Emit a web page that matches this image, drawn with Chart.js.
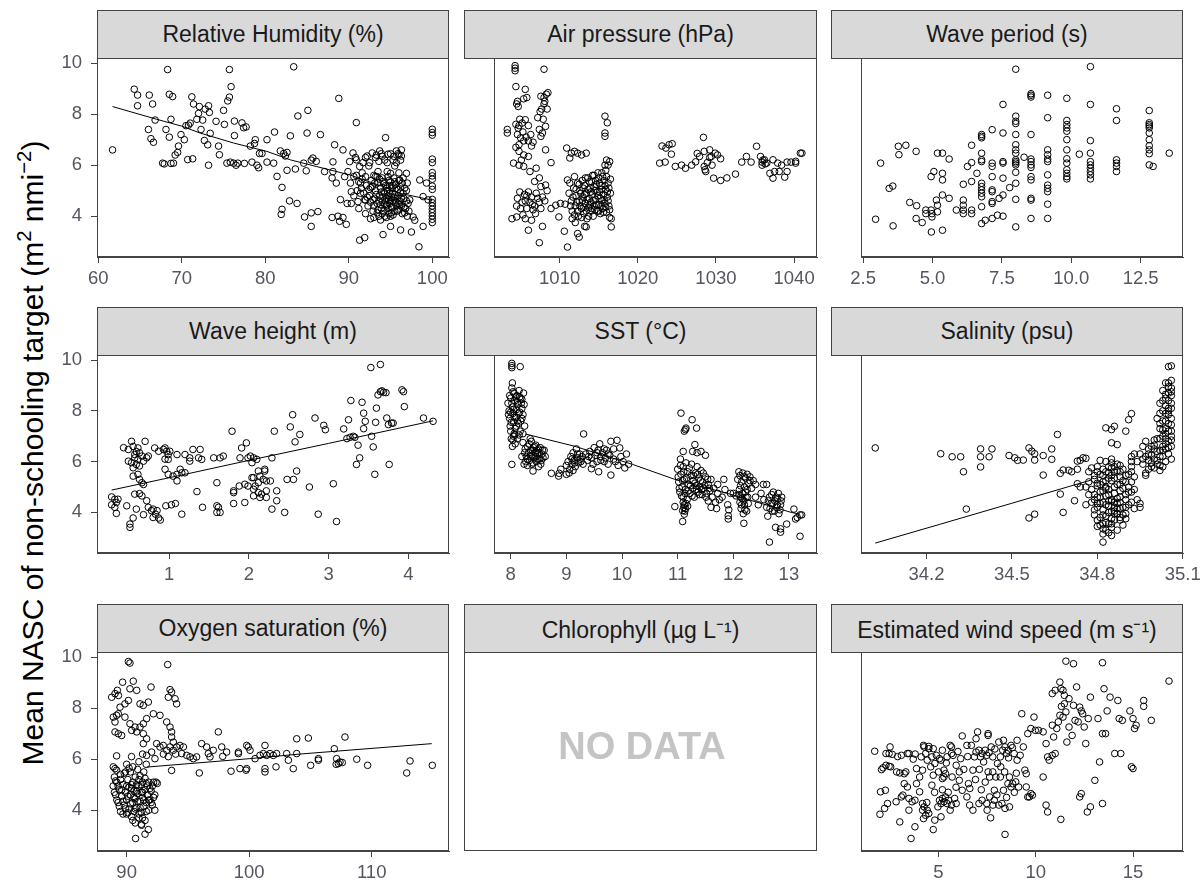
<!DOCTYPE html>
<html lang="en">
<head>
<meta charset="UTF-8">
<title>Mean NASC of non-schooling target vs environmental variables</title>
<script src="https://cdn.jsdelivr.net/npm/chart.js"></script>
<style>
  body { margin: 0; background: #fff; font-family: "Liberation Sans", Arial, sans-serif; }
  #page { position: relative; width: 1204px; height: 884px; overflow: hidden; background: #fff; }
  .strip { position: absolute; box-sizing: border-box; background: #d9d9d9; border: 1px solid #444;
           display: flex; align-items: center; justify-content: center; font-size: 23px; color: #1a1a1a; }
  .cw { position: absolute; }
  .frame { position: absolute; box-sizing: border-box; border: 1px solid #444; }
  .nodata { position: absolute; transform: translate(-50%, -50%); font-size: 38px; font-weight: bold; color: #c4c4c4; white-space: nowrap; }
  .ytitle { position: absolute; left: 33px; top: 453px; transform: translate(-50%, -50%) rotate(-90deg);
            font-size: 30px; line-height: 1; white-space: nowrap; color: #000; }
  .ytitle sup { font-size: 0.68em; vertical-align: 0; position: relative; top: -0.6em; }
</style>
</head>
<body>
<div id="page">
  <div class="ytitle">Mean NASC of non-schooling target (m<sup>2</sup> nmi<sup>&minus;2</sup>)</div>
</div>
<script>
// ---- data (x value, mean NASC) ----
const yTicks = [4, 6, 8, 10];

const rhTicks = [60, 70, 80, 90, 100];
const rh = [
  [61.7,6.6],[64.3,8.98],[64.7,8.75],[64.7,8.33],[66.0,7.4],[66.1,8.75],[66.5,8.4],[66.3,7.04],[66.6,6.9],[66.8,7.77],
  [67.7,6.08],[67.9,6.05],[68.1,7.4],[68.3,9.75],[68.5,8.78],[68.9,8.69],[68.5,7.1],[68.7,7.8],[68.7,6.07],[69.0,6.08],
  [69.2,6.4],[69.6,6.75],[69.5,6.5],[69.9,7.2],[70.3,7.0],[70.5,7.55],[70.8,7.57],[70.7,6.22],[71.3,6.25],[71.2,8.68],
  [71.4,8.4],[71.0,7.65],[71.8,7.8],[72.0,8.03],[72.1,8.3],[72.3,7.4],[72.7,6.97],[72.8,8.2],[73.2,8.33],[73.3,8.07],
  [73.4,7.25],[73.2,6.0],[73.1,6.8],[72.5,7.77],[74.1,7.72],[74.4,6.75],[74.5,6.41],[75.1,7.6],[75.0,8.15],[75.5,8.52],
  [75.7,8.67],[75.7,9.75],[75.9,9.08],[76.3,7.16],[76.3,7.73],[75.4,6.08],[75.8,6.12],[76.2,6.08],[76.5,6.0],[76.7,6.08],
  [77.2,7.66],[77.4,7.47],[77.7,7.5],[77.5,6.07],[78.2,6.75],[78.4,6.12],[78.8,7.0],[78.7,6.85],[79.0,6.0],[79.2,5.9],
  [79.3,6.46],[79.6,6.46],[80.2,7.0],[80.2,6.12],[81.1,7.3],[81.0,6.08],[81.4,5.56],[82.0,5.13],[81.8,6.56],[82.2,6.46],
  [82.4,6.36],[82.6,6.5],[82.6,5.8],[82.0,4.27],[81.9,4.07],[82.9,4.6],[83.0,7.15],[83.4,9.86],[83.8,4.5],[83.6,5.85],
  [83.9,7.93],[84.6,6.08],[84.9,5.78],[85.0,7.26],[85.1,8.15],[85.5,6.2],[85.7,6.28],[84.7,3.97],[85.5,4.13],[85.5,3.6],
  [86.3,4.18],[86.6,7.2],[86.1,6.15],[87.1,5.75],[88.1,6.13],[88.3,6.8],[88.1,5.75],[88.5,5.3],[88.0,3.95],[88.7,4.0],
  [88.9,3.8],[89.3,3.95],[89.7,3.68],[89.0,4.65],[88.8,8.62],[89.3,6.6],[89.9,5.75],[90.1,6.14],[90.3,4.5],[90.3,4.96],
  [90.5,6.48],[90.9,6.21],[90.9,7.67],[91.3,3.06],[91.9,3.16],[91.1,4.57],[91.4,5.3],[91.6,5.7],[92.0,4.63],[92.2,6.36],
  [92.4,5.97],[92.6,5.12],[92.8,6.48],[93.0,3.95],[93.2,5.56],[93.4,4.13],[93.7,6.56],[94.1,5.36],[94.1,3.28],[94.3,4.9],
  [94.4,7.08],[94.5,4.4],[94.7,6.43],[94.8,4.64],[95.0,5.68],[95.1,4.13],[95.3,5.2],[95.5,5.97],[95.7,6.56],[95.9,4.5],
  [96.1,5.42],[96.2,3.46],[96.3,6.36],[96.5,4.9],[96.7,4.13],[96.9,5.68],[97.3,4.64],[97.5,3.38],[97.7,3.97],[97.9,3.84],
  [98.4,2.8],[98.5,5.42],[98.9,4.77],[98.9,3.6],[99.3,5.3],[99.5,4.64],
  [100,7.41],[100,7.28],[100,7.18],[100,6.24],[100,6.1],[100,5.71],[100,5.58],[100,5.45],[100,5.18],[100,5.05],
  [100,4.66],[100,4.53],[100,4.4],[100,4.27],[100,4.14],[100,4.01],[100,3.88],[100,3.75],
  [91.5,5.1],[91.8,4.9],[92.1,5.2],[92.3,4.4],[92.5,4.8],[92.7,5.4],[92.9,4.2],[93.1,4.7],[93.2,5.0],[93.4,4.5],
  [93.5,5.3],[93.6,4.0],[93.7,4.8],[93.8,5.1],[93.9,4.3],[94.0,4.6],[94.0,5.5],[94.2,4.2],[94.2,4.95],[94.3,4.45],
  [94.4,5.2],[94.5,3.95],[94.5,4.7],[94.6,5.0],[94.7,4.3],[94.8,5.4],[94.9,4.5],[94.9,4.9],[95.0,4.0],[95.1,4.75],
  [95.2,5.1],[95.2,4.35],[95.3,4.6],[95.4,5.5],[95.5,4.2],[95.5,4.85],[95.6,5.25],[95.7,4.4],[95.8,4.7],[95.9,5.05],
  [96.0,4.25],[96.0,5.7],[96.1,4.6],[96.2,4.95],[96.3,4.4],[96.4,5.3],[96.6,4.7],[96.8,4.3],[96.9,5.0],[97.1,4.5],
  [97.0,4.0],[93.0,5.6],[93.5,5.75],[94.6,5.75],[95.0,3.6],[93.8,3.85],[92.6,3.9],[92.0,4.1],
  [90.8,6.3],[91.3,5.95],[91.7,6.1],[92.0,6.3],[93.2,6.3],[93.6,6.15],[93.9,6.45],[94.3,6.2],[95.0,6.45],[95.3,6.2],
  [95.9,6.45],[96.2,6.2],[96.3,6.6],[91.0,5.0],[91.2,5.35],[90.6,5.55],[89.5,5.55],[89.8,4.5],[88.0,5.5],
  [90.2,5.3],[90.6,4.8],[90.9,5.6],[91.2,4.3],[91.4,4.9],[91.6,5.45],[91.9,4.65],[92.0,5.55],[92.2,4.75],[92.4,5.05],
  [92.6,4.55],[92.8,5.15],[92.9,4.65],[93.0,4.4],[93.1,5.3],[93.3,4.85],[93.4,5.55],[93.5,4.25],[93.6,4.6],[93.7,5.45],
  [93.8,4.45],[93.9,4.95],[94.0,4.1],[94.1,4.75],[94.2,5.3],[94.3,4.0],[94.4,4.6],[94.5,5.1],[94.6,4.45],[94.7,4.8],
  [94.7,5.55],[94.8,4.1],[94.9,5.2],[95.0,4.6],[95.0,5.35],[95.1,4.35],[95.2,4.9],[95.3,4.05],[95.4,4.75],[95.5,5.35],
  [95.6,4.55],[95.7,5.1],[95.8,4.2],[95.9,4.8],[96.0,5.4],[96.1,4.45],[96.2,5.15],[96.3,4.7],[96.4,4.1],[96.5,5.5],
  [96.6,4.35],[96.7,5.1],[96.9,4.6],[97.0,5.3],[97.2,4.2],[93.3,6.4],[94.0,6.35],[94.6,6.1],[95.4,6.35],[95.7,6.1],
  [96.0,6.4],[92.5,6.1]
];
const rhFit = [[61.7,8.3],[67,7.8],[70,7.53],[72.2,7.26],[76.2,6.87],[80.2,6.54],[83,6.21],[86.1,5.95],[90.1,5.62],[94.1,5.16],[96.1,4.9],[100,4.63]];

const apTicks = [1010, 1020, 1030, 1040];
const ap = [
  [1004.3,9.9],[1004.3,9.8],[1004.3,9.7],[1008.0,9.76],[1004.4,9.08],[1005.6,8.97],[1004.6,8.5],[1004.7,8.3],[1004.5,8.4],[1005.4,8.6],
  [1005.8,8.65],[1007.6,8.7],[1008.0,8.65],[1008.3,8.78],[1008.5,8.84],[1007.7,8.2],[1008.4,8.2],[1008.0,8.4],[1003.3,7.4],[1003.3,7.26],
  [1004.4,7.6],[1004.8,7.55],[1005.2,7.65],[1005.6,7.78],[1006.0,7.55],[1004.6,7.2],[1005.0,7.07],[1005.4,6.95],[1004.8,6.8],[1006.0,6.95],
  [1006.4,6.75],[1007.2,7.86],[1007.4,7.4],[1007.8,7.26],[1008.2,7.52],[1007.6,7.13],[1008.2,6.6],[1004.8,6.54],[1005.4,6.4],[1006.0,6.34],
  [1004.1,6.08],[1004.8,6.0],[1005.4,5.95],[1006.2,5.75],[1007.0,5.88],[1008.9,6.1],[1007.4,5.5],[1006.8,5.36],[1008.2,5.22],[1007.6,5.16],
  [1004.6,4.7],[1005.8,4.8],[1005.2,4.55],[1006.2,4.55],[1006.8,4.4],[1007.4,4.55],[1005.8,4.3],[1006.6,4.25],[1004.9,4.95],[1005.5,4.85],
  [1006.4,4.75],[1007.0,4.9],[1007.8,4.75],[1003.9,3.9],[1004.5,3.97],[1005.6,3.9],[1006.4,3.84],[1006.0,3.45],[1007.8,3.6],[1007.4,2.96],
  [1008.9,4.3],[1009.5,4.43],[1010.1,4.5],[1010.7,4.47],[1009.9,3.97],[1010.6,3.41],[1011.0,2.79],[1010.9,6.67],[1011.5,6.47],[1011.9,6.54],
  [1012.3,6.47],[1012.8,6.4],[1013.4,6.47],[1011.3,6.28],[1011.0,5.42],[1011.9,5.55],
  [1004.9,7.8],[1005.3,7.3],[1005.7,7.1],[1004.7,7.45],[1006.3,7.2],[1007.9,7.8],[1008.1,8.5],[1007.5,8.1],[1004.4,6.7],[1005.1,6.2],
  [1006.6,6.9],[1004.5,4.4],[1005.0,4.3],[1005.6,4.6],[1006.0,4.95],[1006.5,4.45],[1007.2,4.7],[1007.6,4.3],[1008.1,4.6],[1008.4,5.0],
  [1006.9,4.1],[1005.3,4.05],
  [1011.2,4.9],[1011.5,4.6],[1011.6,4.2],[1011.8,5.1],[1012.0,4.4],[1012.1,4.8],[1012.3,5.3],[1012.4,4.0],[1012.5,4.6],[1012.6,5.0],
  [1012.8,4.3],[1012.9,5.4],[1013.0,4.75],[1013.1,4.1],[1013.2,5.2],[1013.3,4.5],[1013.4,4.9],[1013.5,3.9],[1013.6,5.5],[1013.7,4.35],
  [1013.8,4.7],[1013.9,5.1],[1014.0,4.2],[1014.0,4.55],[1014.1,5.35],[1014.2,4.85],[1014.3,4.0],[1014.4,5.6],[1014.4,4.4],[1014.5,5.0],
  [1014.6,4.65],[1014.7,5.25],[1014.8,4.2],[1014.9,4.8],[1015.0,5.5],[1015.0,4.45],[1015.1,4.95],[1015.2,4.1],[1015.3,5.2],[1015.4,4.6],
  [1015.4,5.7],[1015.5,4.3],[1015.6,4.85],[1015.7,5.4],[1015.8,4.5],[1015.9,5.05],[1016.0,4.15],[1016.1,4.75],[1016.2,5.3],[1016.3,4.4],
  [1016.4,3.95],[1016.5,4.9],[1013.2,3.6],[1012.0,3.75],[1011.6,3.9],
  [1011.3,5.3],[1011.4,4.4],[1011.7,4.75],[1011.9,4.05],[1012.1,5.05],[1012.2,4.55],[1012.3,4.2],[1012.5,5.25],[1012.6,4.4],[1012.7,4.9],
  [1012.8,3.95],[1012.9,4.6],[1013.0,5.1],[1013.1,4.35],[1013.2,4.85],[1013.3,5.5],[1013.4,4.2],[1013.5,4.65],[1013.6,5.05],[1013.7,4.0],
  [1013.8,5.35],[1013.9,4.45],[1014.0,4.95],[1014.1,4.3],[1014.2,5.6],[1014.3,4.6],[1014.4,5.15],[1014.5,4.25],[1014.6,5.4],[1014.7,4.45],
  [1014.8,4.95],[1014.9,5.7],[1015.0,4.2],[1015.1,5.3],[1015.2,4.7],[1015.3,4.4],[1015.4,5.05],[1015.5,5.55],[1015.6,4.15],[1015.7,4.65],
  [1015.8,5.2],[1015.9,4.35],[1016.0,5.55],[1016.1,4.95],[1016.2,4.6],[1016.3,5.1],[1016.4,4.25],[1016.5,5.45],[1015.9,5.8],[1016.2,6.0],
  [1012.5,3.18],[1012.3,3.32],[1013.4,3.58],[1015.8,7.92],[1016.1,7.66],[1015.8,7.26],[1015.8,7.13],[1016.0,6.2],[1016.4,6.14],[1015.8,6.0],
  [1016.6,3.9],[1016.6,3.58],
  [1023.1,6.75],[1023.6,6.67],[1024.0,6.8],[1024.4,6.84],[1024.3,6.43],[1022.8,6.08],[1023.5,6.12],[1024.8,5.95],[1025.6,6.0],[1026.1,5.88],
  [1026.9,6.0],[1027.4,6.13],[1027.6,6.46],[1028.4,7.09],[1027.9,6.34],[1028.5,6.54],[1028.5,5.95],[1028.6,5.82],[1028.7,5.75],[1029.2,6.6],
  [1029.4,6.34],[1029.7,5.49],[1029.9,6.47],[1030.6,5.4],[1030.6,6.25],[1031.4,5.5],[1032.5,5.65],[1028.9,6.1],[1029.2,6.3],[1029.5,6.0],
  [1030.2,6.4],[1033.3,6.12],[1033.9,6.34],[1034.5,6.12],[1035.2,6.74],[1035.7,6.34],[1035.9,6.12],[1036.2,6.21],[1035.9,6.0],[1036.5,6.08],
  [1036.9,5.68],[1037.3,5.49],[1037.5,5.75],[1037.9,6.08],[1038.1,5.75],[1038.4,6.0],[1038.8,5.53],[1039.1,5.75],[1039.1,6.12],[1039.6,6.12],
  [1040.2,6.08],[1040.2,6.15],[1040.8,6.47],[1041.0,6.47],[1037.3,6.21],[1036.0,6.2],[1036.3,6.05]
];

const wpTicks = [2.5, 5.0, 7.5, 10.0, 12.5];
const wp = [
  [2.95,3.88],[3.13,6.08],[3.44,5.09],[3.57,5.18],[3.58,3.62],[3.77,6.74],[3.79,6.41],[4.04,6.78],[4.18,4.54],[4.43,4.41],
  [4.41,6.54],[4.41,3.91],[4.63,3.75],[4.76,4.24],[4.76,4.1],[4.95,4.24],[4.98,4.1],[4.98,3.97],[4.96,3.38],[4.95,5.55],
  [5.05,5.75],[5.18,6.47],[5.36,6.47],[5.36,5.68],[5.36,5.42],[5.14,4.63],[5.18,4.43],[5.18,4.17],[5.36,4.83],[5.36,3.45],
  [5.6,4.7],[5.6,6.24],[5.86,4.24],[6.11,4.63],[6.11,4.43],[6.11,4.24],[6.11,4.1],[6.41,4.24],[6.41,4.1],[6.11,5.25],
  [6.26,5.95],[6.41,5.36],[6.41,6.1],[6.41,6.78],[6.6,5.68],
  [6.77,7.2],[6.77,7.13],[6.77,7.07],[6.77,6.47],[6.77,6.21],[6.77,6.14],[6.77,5.29],[6.77,5.16],[6.77,5.03],[6.77,4.9],
  [6.77,4.76],[6.77,4.37],[6.77,3.71],[6.9,3.84],[7.15,3.91],[7.34,4.04],[7.54,4.0],
  [7.15,7.39],[7.15,6.08],[7.15,5.95],[7.15,5.55],[7.15,5.03],[7.15,4.96],[7.15,4.57],[7.15,4.5],
  [7.4,4.7],[7.54,4.83],[7.54,8.38],[7.54,7.26],[7.54,6.14],[7.54,6.08],[7.54,5.49],[7.78,5.12],
  [8.0,9.76],[8.0,7.92],[8.0,7.72],[8.0,7.63],[8.0,7.2],[8.0,6.8],[8.0,6.6],[8.0,6.47],[8.0,6.21],[8.0,6.14],
  [8.0,6.08],[8.0,6.01],[8.0,5.72],[8.0,5.29],[8.0,4.66],[8.0,3.58],[8.3,6.31],
  [8.55,8.8],[8.55,8.74],[8.55,8.67],[8.55,7.2],[8.55,6.24],[8.55,6.14],[8.55,6.01],[8.55,5.91],[8.55,5.55],[8.55,5.42],
  [8.55,4.7],[8.55,4.63],[8.55,3.91],
  [9.15,8.74],[9.15,7.86],[9.15,6.6],[9.15,6.41],[9.15,6.24],[9.15,6.14],[9.15,5.62],[9.15,5.22],[9.15,5.09],[9.15,4.96],
  [9.15,4.47],[9.15,3.91],
  [9.84,8.62],[9.84,7.75],[9.84,7.59],[9.84,7.46],[9.84,7.33],[9.84,7.0],[9.84,6.6],[9.84,6.25],[9.84,6.08],[9.84,5.82],
  [9.84,5.68],[9.84,5.55],[9.84,5.46],[10.29,6.43],
  [10.69,9.86],[10.69,8.38],[10.69,6.96],[10.69,6.47],[10.69,6.14],[10.69,6.01],[10.69,5.88],[10.69,5.75],[10.69,5.62],[10.69,5.46],
  [11.63,8.21],[11.63,7.75],[11.63,6.21],[11.63,6.08],[11.63,5.95],[11.63,5.75],
  [12.81,8.14],[12.81,7.66],[12.81,7.59],[12.81,7.53],[12.81,7.46],[12.81,7.26],[12.81,7.0],[12.81,6.76],[12.81,6.6],[12.81,6.45],
  [12.81,6.01],[12.95,5.95],[13.53,6.47]
];

const whTicks = [1, 2, 3, 4];
const wh = [
  [0.28,4.61],[0.32,4.52],[0.36,4.52],[0.28,4.3],[0.34,4.39],[0.32,4.2],[0.34,3.96],[0.47,4.26],[0.51,3.54],[0.51,3.41],
  [0.55,3.78],[0.43,6.55],[0.49,6.48],[0.53,6.8],[0.55,6.6],[0.59,6.4],[0.61,6.54],[0.63,6.35],[0.66,6.22],[0.57,6.15],
  [0.49,6.02],[0.53,5.96],[0.59,5.89],[0.55,5.76],[0.63,5.83],[0.68,6.02],[0.72,6.15],[0.74,6.22],[0.7,6.8],[0.57,6.28],
  [0.61,6.09],[0.55,5.43],[0.61,5.5],[0.63,5.3],[0.66,5.17],[0.68,5.1],[0.57,4.72],[0.63,4.74],[0.66,4.65],[0.72,4.46],
  [0.59,4.13],[0.68,3.91],[0.74,4.2],[0.78,4.07],[0.8,4.13],[0.85,4.07],[0.83,3.93],[0.8,3.8],[0.87,3.78],[0.89,3.7],
  [0.82,6.54],[0.87,6.41],[0.93,6.48],[0.95,6.54],[0.97,6.41],[0.99,6.09],[1.01,6.41],[0.99,6.28],[0.95,6.1],
  [0.95,5.7],[0.99,5.5],[1.05,5.43],[1.1,5.5],[1.1,5.24],[1.14,5.7],[1.2,5.56],[1.16,5.56],[0.96,4.26],[1.03,4.3],
  [1.08,4.35],[1.16,3.93],[1.1,6.28],[1.2,6.28],[1.26,6.15],[1.3,6.48],[1.39,6.48],[1.41,6.09],[1.37,6.15],[1.26,6.02],
  [1.56,6.15],[1.64,6.15],[1.68,6.22],[1.35,4.82],[1.42,4.2],[1.6,5.17],[1.6,4.26],[1.62,4.2],[1.6,4.0],[1.64,4.0],
  [1.79,7.2],[1.81,4.78],[1.81,4.85],[1.81,4.35],[1.88,5.04],[1.95,4.39],[1.89,6.15],[1.91,6.54],[1.97,6.74],[1.99,6.15],
  [2.02,6.22],[2.04,5.96],[2.06,6.15],[2.1,6.09],[1.99,5.04],[2.04,5.37],[2.06,5.37],[2.08,5.04],[2.12,5.63],[2.14,5.43],
  [2.18,5.3],[2.2,5.63],[2.22,5.24],[2.27,5.24],[2.06,4.65],[2.12,4.78],[2.14,4.59],[2.22,4.59],[2.22,4.85],[2.16,4.72],
  [2.29,4.13],[2.35,4.85],[2.35,4.46],[1.95,5.11],[2.06,4.91],[2.12,5.17],[2.2,5.7],[2.29,6.15],[2.32,7.2],[2.45,4.0],
  [2.48,5.3],[2.56,5.3],[2.6,5.63],[2.52,7.37],[2.55,7.85],[2.58,6.78],[2.64,7.07],[2.76,5.0],[2.83,7.72],[2.94,7.43],
  [2.96,7.26],[2.87,3.93],[3.06,5.13],[3.1,3.64],[3.19,7.29],[3.25,7.65],[3.28,8.41],[3.42,8.34],[3.23,6.91],[3.27,6.96],
  [3.31,7.0],[3.33,6.96],[3.37,6.65],[3.39,6.15],[3.35,5.89],[3.44,7.91],[3.46,7.59],[3.44,7.3],[3.54,7.0],[3.56,6.58],
  [3.58,5.5],[3.59,7.55],[3.6,8.11],[3.62,8.63],[3.65,8.76],[3.67,8.79],[3.69,8.73],[3.72,8.72],[3.73,7.72],[3.75,7.46],
  [3.76,5.89],[3.79,7.52],[3.81,7.52],[3.92,8.83],[3.94,8.76],[3.95,8.17],[3.53,9.71],[3.65,9.83],[4.19,7.72],[4.31,7.59]
];
const whFit = [[0.28,4.88],[1.2,5.5],[2,6.05],[3,6.72],[4.31,7.61]];

const sstTicks = [8, 9, 10, 11, 12, 13];
const sst = [
  [8.02,9.87],[8.02,9.78],[8.02,9.7],[8.17,9.74],[8.02,5.89],
  [7.95,8.3],[7.97,8.0],[7.98,7.7],[7.99,7.4],[8.0,7.2],[8.0,8.5],[8.02,8.9],[8.03,9.1],[8.03,8.15],[8.04,7.9],
  [8.05,7.55],[8.05,7.0],[8.06,8.7],[8.07,8.4],[8.08,7.3],[8.08,6.7],[8.1,8.05],[8.1,7.75],[8.11,8.6],[8.12,6.9],
  [8.13,8.25],[8.14,7.5],[8.15,8.8],[8.16,7.95],[8.17,7.2],[8.18,8.5],[8.2,7.7],[8.2,8.1],[8.22,7.1],[8.23,8.7],
  [8.25,7.4],[8.06,7.1],[8.03,6.6],[8.04,6.85],[8.12,7.6],[8.19,8.3],
  [7.96,7.85],[7.98,8.6],[8.0,7.95],[8.01,7.55],[8.02,8.3],[8.04,8.75],[8.05,8.05],[8.07,7.75],[8.09,8.55],[8.1,7.4],
  [8.12,8.35],[8.14,7.9],[8.16,8.55],[8.18,7.6],[8.2,8.45],[8.22,7.85],[8.24,8.25],[8.01,6.9],[8.07,7.05],[8.15,7.05],
  [8.22,6.75],[8.26,6.5],[8.28,6.2],[8.3,6.6],[8.32,6.35],[8.34,6.05],[8.36,6.45],[8.37,6.8],[8.38,6.25],[8.4,5.95],
  [8.41,6.55],[8.42,6.15],[8.44,6.35],[8.45,6.65],[8.46,6.0],[8.48,6.3],[8.5,6.5],[8.52,6.1],[8.54,5.9],[8.56,6.3],
  [8.58,6.15],[8.6,6.45],[8.24,5.9],[8.3,5.85],[8.4,5.63],[8.5,5.8],[8.2,6.2],[8.35,6.9],
  [8.25,6.35],[8.3,6.1],[8.33,6.7],[8.36,6.2],[8.39,6.45],[8.43,6.6],[8.45,6.2],[8.47,6.45],[8.49,6.1],[8.51,6.35],
  [8.53,6.55],[8.55,6.05],[8.57,6.45],[8.62,6.2],[8.27,6.0],[8.38,5.9],
  [8.73,5.54],[8.87,5.54],[8.86,5.43],[9.0,5.5],[8.9,5.7],
  [9.0,5.85],[9.03,6.0],[9.06,5.7],[9.08,6.2],[9.1,5.9],[9.12,6.35],[9.14,6.05],[9.16,5.8],[9.18,6.5],[9.2,6.15],
  [9.22,5.95],[9.24,6.3],[9.26,6.0],[9.28,6.2],[9.3,5.9],[9.12,5.65],[9.05,5.55],[9.31,7.09],
  [9.1,6.1],[9.15,5.95],[9.2,6.3],[9.25,6.1],[9.4,6.2],[9.55,6.35],[9.62,6.05],[9.68,6.5],[9.75,6.3],[9.85,6.1],
  [9.35,6.3],[9.38,6.05],[9.42,6.4],[9.45,6.15],[9.48,5.9],[9.5,6.55],[9.52,6.25],[9.55,6.0],[9.57,6.45],[9.6,6.7],
  [9.62,6.2],[9.65,6.35],[9.68,6.0],[9.7,6.15],[9.72,6.45],[9.75,5.9],[9.78,6.25],[9.8,6.8],[9.8,5.47],[9.85,6.5],
  [9.88,6.0],[9.91,6.84],[9.93,5.85],[9.96,6.54],[9.98,6.2],[10.02,6.0],[10.05,5.75],[10.08,6.3],[10.12,5.9],[9.45,5.72],
  [9.58,5.6],
  [11.06,7.91],[11.26,7.65],[11.15,7.32],[11.12,7.2],[11.14,7.26],[11.34,7.32],[11.31,6.67],[11.05,6.1],[11.1,6.4],[11.27,6.4],
  [11.35,6.35],[11.42,6.4],[11.5,6.25],
  [11.0,5.7],[11.02,5.2],[11.04,4.8],[11.06,5.5],[11.08,5.0],[11.1,4.6],[11.1,5.8],[11.12,5.3],[11.14,4.9],[11.15,5.95],
  [11.17,4.5],[11.18,5.6],[11.2,5.1],[11.22,4.75],[11.24,5.45],[11.25,5.9],[11.27,4.95],[11.28,5.25],[11.3,4.6],[11.32,5.55],
  [11.33,5.05],[11.35,5.8],[11.37,4.8],[11.38,5.35],[11.4,5.0],[11.42,5.65],[11.44,4.7],[11.45,5.2],[11.47,4.95],[11.5,5.4],
  [11.52,4.75],[11.55,5.1],[11.58,4.85],[11.6,5.3],[11.62,4.6],[11.65,4.95],[11.12,4.3],[11.14,4.15],[11.1,4.4],[11.18,4.25],
  [11.01,5.4],[11.03,4.95],[11.05,5.85],[11.07,4.65],[11.09,5.25],[11.11,5.6],[11.13,4.75],[11.16,5.35],[11.19,4.85],[11.21,5.75],
  [11.23,5.05],[11.26,4.65],[11.29,5.45],[11.31,5.15],[11.34,4.9],[11.36,5.5],[11.39,4.7],[11.41,5.25],[11.43,4.9],[11.46,5.55],
  [11.49,5.05],[11.51,4.6],[11.54,5.3],[11.57,4.95],[11.11,4.2],[11.13,4.05],[11.15,4.35],
  [10.95,4.23],[11.09,4.07],[11.12,3.93],[11.09,3.64],
  [11.68,4.4],[11.72,4.75],[11.75,4.5],[11.72,5.1],[11.83,5.3],[11.8,4.6],[11.85,4.9],[11.9,4.3],[11.92,4.1],[11.91,3.87],
  [11.91,3.74],[11.7,4.15],[11.6,4.2],[11.55,4.45],[11.95,4.75],
  [12.08,5.3],[12.1,5.6],[12.12,5.45],[12.15,5.2],[12.17,5.55],[12.2,5.0],[12.22,5.35],[12.25,5.5],[12.28,5.15],[12.3,5.4],
  [12.33,4.95],[12.36,5.25],[12.4,5.1],[12.1,4.7],[12.12,4.4],[12.14,4.15],[12.16,4.55],[12.18,3.95],[12.2,4.3],[12.22,4.8],
  [12.24,4.05],[12.26,4.6],[12.19,3.57],[12.05,4.65],[12.0,4.75],
  [12.11,4.9],[12.13,4.6],[12.15,4.3],[12.17,4.75],[12.19,4.45],[12.21,4.1],[12.23,4.6],[12.25,4.9],[12.27,4.35],[12.13,5.05],
  [12.2,5.4],[12.3,5.25],
  [12.54,5.1],[12.6,5.1],[12.5,4.75],[12.55,4.5],[12.6,4.2],[12.65,4.6],[12.68,4.35],[12.7,4.05],[12.72,4.8],[12.75,4.45],
  [12.78,4.2],[12.8,4.55],[12.82,3.95],[12.85,4.3],[12.87,4.6],[12.62,3.85],[12.45,4.3],[12.4,4.6],
  [12.63,4.45],[12.66,4.15],[12.69,4.7],[12.71,4.35],[12.74,4.05],[12.77,4.6],[12.79,4.3],[12.81,4.75],[12.84,4.1],[12.86,4.45],
  [12.65,2.83],[12.76,3.41],[12.85,3.35],[12.85,3.22],[12.96,3.54],[13.09,4.13],[13.15,3.8],[13.2,3.9],[13.23,3.9],[13.2,3.06],
  [13.12,3.74]
];
const sstFit = [[8.26,7.09],[9.14,6.61],[10.19,5.89],[10.95,5.3],[11.94,4.72],[13.04,4.0],[13.2,3.93]];

const salTicks = [34.2, 34.5, 34.8, 35.1];
const sal = [
  [34.02,6.54],[34.25,6.31],[34.29,6.19],[34.32,6.19],[34.33,5.6],[34.34,4.13],[34.39,6.5],[34.39,6.19],[34.39,5.79],[34.42,6.19],
  [34.43,6.5],[34.49,6.24],[34.51,6.15],[34.52,6.05],[34.54,6.06],[34.56,3.78],[34.58,3.93],[34.56,6.54],[34.57,6.41],[34.58,6.31],
  [34.58,6.06],[34.61,6.24],[34.61,5.47],[34.64,6.5],[34.64,6.09],[34.66,7.07],[34.67,5.54],[34.68,5.67],[34.67,4.72],[34.68,4.0],
  [34.7,5.66],[34.72,4.46],[34.73,5.13],[34.73,6.02],[34.74,6.05],[34.75,6.15],[34.76,6.13],[34.73,5.7],[34.71,5.6],[34.74,5.0],
  [34.78,4.9],[34.79,5.3],[34.79,4.5],[34.8,5.6],[34.8,4.2],[34.81,4.8],[34.81,5.1],[34.82,3.9],[34.82,4.4],[34.82,5.45],
  [34.83,4.65],[34.83,5.0],[34.83,3.6],[34.84,5.8],[34.84,4.25],[34.84,4.9],[34.85,5.25],[34.85,4.5],[34.85,3.4],[34.86,5.6],
  [34.86,4.05],[34.86,4.75],[34.87,5.1],[34.87,4.35],[34.87,5.9],[34.88,4.6],[34.88,5.4],[34.88,3.8],[34.89,4.95],[34.89,4.2],
  [34.89,5.7],[34.9,4.5],[34.9,5.2],[34.91,4.8],[34.91,5.5],[34.8,3.7],[34.81,3.5],[34.83,3.3],[34.84,4.0],[34.85,5.95],
  [34.86,3.7],[34.87,3.95],[34.88,4.15],[34.79,4.1],[34.8,5.05],[34.82,5.7],[34.84,5.35],[34.86,5.0],[34.88,5.1],[34.9,3.95],
  [34.83,6.0],[34.85,6.1],[34.81,6.05],[34.77,4.7],[34.77,5.6],[34.76,4.3],
  [34.8,5.8],[34.81,5.5],[34.82,5.2],[34.83,4.95],[34.84,4.7],[34.85,4.45],[34.86,4.2],[34.87,3.95],[34.88,3.7],[34.89,3.5],
  [34.8,4.6],[34.81,4.35],[34.82,4.1],[34.83,3.85],[34.84,3.55],[34.85,3.75],[34.86,3.95],[34.87,4.55],[34.88,4.85],[34.89,5.25],
  [34.79,5.45],[34.8,5.15],[34.81,4.6],[34.82,4.85],[34.83,5.25],[34.84,5.55],[34.85,5.75],[34.86,5.35],[34.87,5.65],[34.88,5.85],
  [34.79,3.9],[34.8,4.35],[34.81,3.8],[34.82,3.55],[34.83,4.3],[34.84,4.45],[34.85,4.05],[34.86,4.4],[34.87,4.15],[34.88,4.4],
  [34.8,3.45],[34.82,3.35],[34.84,3.2],[34.85,3.55],[34.87,3.3],[34.83,5.6],[34.85,5.45],[34.86,5.8],[34.88,5.6],[34.9,5.45],
  [34.78,5.75],[34.77,5.2],[34.78,4.4],[34.79,4.7],[34.76,5.0],[34.9,4.7],[34.9,4.2],[34.91,5.0],[34.89,3.9],[34.9,3.75],
  [34.92,6.0],[34.92,5.6],[34.92,5.2],[34.92,4.8],[34.92,4.4],[34.93,4.15],
  [34.83,7.33],[34.85,7.26],[34.86,7.39],[34.85,6.74],[34.87,6.67],[34.82,2.83],[34.82,3.15],[34.85,3.09],[34.9,7.2],[34.91,7.65],
  [34.92,7.89],
  [34.92,6.2],[34.92,5.8],[34.93,5.4],[34.93,4.9],[34.94,4.5],[34.94,6.0],[34.95,4.2],[34.93,6.3],[34.96,6.1],[34.97,5.46],
  [34.91,4.3],[34.95,4.35],
  [34.98,6.3],[34.99,6.6],[35.0,6.1],[35.0,6.85],[35.01,5.9],[35.01,6.4],[35.02,6.2],[34.99,5.95],[35.0,6.5],[35.02,5.85],
  [34.98,6.05],
  [34.95,6.3],[34.96,6.6],[34.96,5.9],[34.97,6.2],[34.97,6.8],[34.98,5.7],[34.98,6.5],[34.99,6.25],[35.0,5.75],[35.0,6.65],
  [35.01,6.05],[35.01,6.9],[35.02,5.65],[35.02,6.45],[35.03,5.8],[35.03,6.6],[35.04,6.0],[34.97,5.55],[34.99,5.8],
  [35.03,6.2],[35.04,6.5],[35.05,6.8],[35.03,7.0],[35.04,7.3],[35.05,7.5],[35.06,7.7],[35.03,7.6],[35.04,7.9],[35.05,8.1],
  [35.06,8.3],[35.04,8.5],[35.05,8.7],[35.06,8.9],[35.05,9.1],[35.06,8.6],[35.04,6.9],[35.03,8.0],[35.06,7.2],[35.05,6.3],
  [35.06,6.6],[35.02,7.3],[35.02,8.3],[35.05,9.74],[35.06,9.77],[35.06,7.0],[35.05,7.85],[35.04,8.2],[35.06,6.1],
  [35.02,7.5],[35.02,7.9],[35.03,8.4],[35.03,8.8],[35.04,9.1],[35.04,7.1],[35.04,7.6],[35.05,8.0],[35.05,8.4],[35.05,7.2],
  [35.06,7.45],[35.06,8.1],[35.06,8.75],[35.06,9.2],[35.03,7.25],[35.04,8.65],[35.05,8.95],[35.06,6.85],[35.02,6.9],[35.01,7.7],
  [35.05,6.55],[35.04,6.7],[35.03,6.45]
];
const salFit = [[34.02,2.79],[34.25,3.54],[34.5,4.36],[34.78,5.28]];

const oxyTicks = [90, 100, 110];
const oxy = [
  [90.14,9.83],[90.27,9.77],[93.35,9.71],[90.54,9.06],[89.67,9.02],[90.27,8.76],[90.82,8.7],[89.24,8.7],[89.05,8.57],[89.33,8.5],
  [88.78,8.43],[91.99,8.83],[93.54,8.73],[93.67,8.63],[93.4,8.43],[93.95,8.37],[94.08,8.17],[90.14,8.3],[89.86,8.17],[89.46,8.04],
  [91.09,8.17],[91.36,8.11],[91.77,8.24],
  [88.91,7.65],[89.18,7.72],[89.05,7.46],[89.32,7.78],[89.86,7.65],[90.27,7.39],[90.68,7.26],[91.09,7.26],[91.36,7.39],[91.63,7.59],
  [92.18,7.78],[92.72,7.72],[89.05,7.07],[89.32,7.0],[89.59,6.93],[90.41,7.13],[90.82,7.07],[91.36,7.0],[91.63,6.8],[91.36,6.61],
  [93.27,7.46],[93.54,7.26],[93.67,7.07],[93.67,6.87],[93.81,6.67],[93.67,5.56],[89.18,6.13],[88.91,5.7],[89.18,5.57],[89.05,5.63],
  [88.9,4.95],[89.0,5.3],[89.1,4.6],[89.2,5.1],[89.3,4.3],[89.4,4.8],[89.5,5.4],[89.5,3.95],[89.6,4.55],[89.7,5.0],
  [89.8,4.2],[89.9,5.5],[89.9,4.7],[90.0,3.85],[90.0,4.4],[90.1,5.2],[90.2,4.9],[90.2,4.05],[90.3,5.5],[90.3,4.6],
  [90.4,3.75],[90.4,5.0],[90.5,4.3],[90.5,5.7],[90.6,4.75],[90.6,3.95],[90.7,5.3],[90.7,4.45],[90.8,5.0],[90.8,4.1],
  [90.9,5.6],[90.9,4.65],[91.0,3.7],[91.0,4.95],[91.1,4.35],[91.1,5.35],[91.2,4.7],[91.2,3.9],[91.3,5.1],[91.3,4.5],
  [91.4,4.15],[91.4,5.5],[91.5,4.8],[91.5,3.6],[91.6,4.3],[91.6,5.05],[91.7,4.6],[91.8,4.0],[91.8,5.1],[91.9,4.4],
  [92.0,4.75],[92.1,4.2],[92.2,5.1],[92.3,4.0],[92.2,4.5],[90.0,5.8],[90.4,6.1],[91.0,5.9],[91.3,6.2],[91.6,5.8],
  [89.0,4.7],[89.1,5.15],[89.2,4.4],[89.3,4.95],[89.4,4.15],[89.5,5.2],[89.6,4.8],[89.7,4.35],[89.8,5.45],[89.9,4.05],
  [90.0,4.95],[90.1,4.55],[90.2,5.65],[90.3,4.25],[90.4,4.85],[90.5,5.1],[90.6,4.5],[90.7,4.05],[90.8,4.75],[90.9,4.35],
  [91.0,5.2],[91.1,4.1],[91.2,5.0],[91.3,4.7],[91.4,4.4],[91.5,5.25],[91.6,3.95],[91.7,4.95],[91.8,4.4],[91.9,4.85],
  [92.0,4.3],[92.1,4.95],[92.3,4.6],[90.5,3.6],[91.0,3.85],[91.3,3.7],[89.7,3.85],[90.1,3.9],[92.4,5.1],[92.5,5.05],
  [90.7,3.5],[91.2,3.45],[90.73,2.89],[91.5,3.06],[91.77,3.24],[91.22,3.41],
  [92.45,6.61],[92.72,6.48],[92.99,6.54],[93.27,6.35],[93.54,6.48],[93.81,6.35],[94.08,6.48],[94.35,6.54],[94.63,6.48],[94.49,6.22],
  [94.9,6.15],[95.17,6.09],[95.44,6.02],[95.71,6.09],[92.04,6.28],[92.31,6.02],[91.63,6.15],[93.0,6.2],[93.4,6.1],[94.0,6.2],
  [95.93,5.46],[96.12,6.61],[96.53,6.48],[96.67,6.22],[96.8,6.09],[97.07,6.35],[97.48,7.07],[97.76,6.48],[97.84,6.11],[98.16,6.28],
  [98.52,5.53],[99.12,6.22],[99.12,6.28],[99.25,5.63],[99.8,6.54],[99.93,6.48],[99.8,5.63],[99.74,5.57],[100.07,6.35],
  [100.48,6.02],[100.88,6.15],[101.16,6.22],[101.29,6.54],[101.43,6.15],[101.7,6.22],[101.97,6.15],[102.24,6.22],[101.29,5.63],[101.29,5.5],
  [102.19,5.7],[103.06,6.22],[103.2,5.96],[103.6,5.63],[103.88,6.22],[103.88,6.8],[104.83,6.83],[105.02,5.76],[105.65,6.02],[105.65,5.96],
  [106.95,6.41],[107.14,6.02],[107.28,5.83],[107.41,5.89],[107.6,5.87],[107.82,6.87],[107.1,5.8],[108.78,6.0],[109.67,5.76],[112.86,5.46],
  [113.13,5.93],[114.95,5.76]
];
const oxyFit = [[91.63,5.69],[100,6.02],[104.1,6.2],[114.9,6.61]];

const wsTicks = [5, 10, 15];
const ws = [
  [1.72,6.31],[1.99,3.84],[2.02,4.72],[2.27,4.78],[2.07,5.59],[2.15,5.66],[2.3,5.76],[2.46,5.72],[2.54,5.7],[2.3,6.22],
  [2.46,6.22],[2.51,6.48],[2.62,6.19],[2.23,4.07],[2.38,4.26],[2.82,4.33],[2.85,5.5],[3.01,5.46],[3.09,6.15],[3.24,5.43],
  [3.32,5.5],[3.4,6.22],[3.48,6.22],[3.01,3.54],[3.24,5.04],[3.17,4.59],[3.4,4.91],[3.48,4.46],[3.09,4.52],[3.64,4.33],
  [3.79,4.39],[3.59,2.89],[3.79,3.35],[3.48,4.0],[3.87,5.04],[3.87,5.63],
  [4.03,5.3],[4.18,5.57],[4.11,6.09],[4.26,6.48],[4.23,6.54],[4.34,6.22],[4.42,5.96],[4.5,6.41],[4.66,6.09],[4.73,6.41],
  [4.81,5.83],[4.89,6.15],[5.05,6.02],[5.13,5.96],[5.2,6.35],[5.28,5.57],[5.36,5.43],[5.44,6.09],[5.6,6.54],[5.67,6.22],
  [5.75,6.15],[5.91,5.76],
  [4.03,4.72],[4.18,4.26],[4.18,4.0],[4.23,3.67],[4.26,4.13],[4.42,4.0],[4.34,3.8],[4.5,3.87],[4.66,4.98],[4.73,5.37],
  [4.81,3.61],[4.97,4.13],[5.05,4.39],[5.13,4.26],[5.2,4.46],[5.28,4.33],[5.36,4.52],[5.44,4.26],[5.52,4.39],[5.6,4.0],
  [5.67,4.2],[5.83,4.46],[5.91,4.26],[5.13,3.74],[4.73,3.24],[5.2,5.24],[5.28,5.3],
  [4.4,4.3],[4.6,5.7],[4.8,4.7],[5.0,5.5],[5.2,4.8],[5.4,5.85],[5.5,4.7],[5.7,5.3],[5.9,4.9],[6.0,6.3],
  [6.3,5.6],[6.5,6.1],[6.6,4.2],[6.9,5.2],[7.1,5.6],[7.2,4.8],[7.4,5.1],[7.5,4.0],[7.6,6.25],[7.8,4.2],
  [7.9,6.4],[8.0,4.6],[8.2,5.7],[8.3,6.35],[8.4,5.5],[8.5,4.5],[8.6,6.05],[8.8,6.45],[8.9,4.7],[9.0,5.45],
  [3.8,6.2],[4.5,6.5],[2.9,6.1],[3.7,6.0],
  [5.67,6.48],[6.07,5.5],[6.14,6.02],[6.07,5.17],[6.22,6.91],[6.22,4.78],[6.46,6.54],[6.46,4.52],[6.54,5.04],[6.61,4.85],
  [6.69,6.54],[6.77,5.57],[6.85,6.09],[6.77,4.0],[6.93,6.28],[6.93,6.8],[7.01,7.07],[7.08,6.35],[7.08,4.26],[7.16,6.09],
  [7.24,6.22],[7.24,4.39],[7.32,5.89],[7.4,6.35],[7.48,6.15],[7.48,4.26],[7.55,6.93],[7.55,7.0],[7.55,5.5],[7.63,5.3],
  [7.63,4.52],[7.68,3.7],[7.71,6.48],[7.79,6.09],[7.79,5.5],[7.87,4.39],[7.87,4.78],[7.95,5.3],[8.03,5.83],[8.1,6.67],
  [8.1,4.2],[8.18,6.09],[8.18,5.3],[8.26,4.26],[8.34,6.74],[8.34,4.78],[8.42,6.48],[8.42,4.07],[8.42,3.05],[8.5,6.22],
  [8.57,6.35],[8.57,5.04],[8.65,5.3],[8.65,4.13],[8.73,6.54],[8.73,4.91],[8.81,5.04],[8.89,6.22],[8.97,5.11],[9.04,6.74],
  [9.04,5.96],[9.12,4.91],[9.2,6.15],[9.36,6.48],[9.44,5.57],[9.51,5.43],[9.51,4.91],[9.59,4.52],[9.67,4.52],[9.75,4.65],
  [9.83,4.59],
  [9.28,7.78],[9.59,7.0],[9.75,7.2],[9.91,7.65],[9.98,7.13],[10.14,7.13],[10.38,7.07],[10.53,6.61],[10.61,6.09],[10.69,5.96],
  [10.85,6.15],[10.38,5.3],[10.53,4.2],[10.61,3.93],[10.85,7.33],[11.0,6.22],[10.92,6.87],[11.08,7.2],[11.16,7.46],[11.24,7.72],
  [11.32,8.07],[11.47,8.17],[11.4,7.65],[11.55,7.85],[11.71,7.26],[11.87,6.93],[11.6,6.67],[12.02,7.52],[12.1,8.83],[12.18,7.46],
  [12.34,7.89],[12.49,7.26],[12.57,6.61],[12.7,7.59],[12.81,8.43],[13.04,5.17],[13.2,7.59],[13.28,5.89],[13.43,7.0],[13.51,8.76],
  [13.59,7.0],[13.67,7.89],[13.82,8.43],[14.06,6.22],[14.22,8.3],[14.29,7.59],[14.37,6.22],[14.45,7.52],[14.84,7.89],[14.92,5.7],
  [15.0,7.59],[15.08,7.2],[15.16,7.33],[15.0,5.63],[15.55,8.3],[15.55,8.07],[15.94,7.52],[16.85,9.06],
  [11.55,9.84],[11.94,9.74],[13.43,9.78],[10.85,8.57],[11.0,8.7],[11.24,9.02],[11.29,8.76],[11.4,8.7],[11.47,8.5],[11.71,8.37],
  [11.94,8.11],[12.26,8.04],[12.41,7.78],[12.26,4.52],[12.34,4.65],[12.65,3.93],[12.81,4.13],[11.29,3.64],[13.43,4.26]
];

// ---- layout ----
const COLS = [[97, 449], [464, 817], [831, 1183]];
const ROWS = [[10, 58, 257], [307, 355, 553], [604, 652, 851]];
const Y_RANGE = [2.4, 10.2];

const panels = [
  { r: 0, c: 0, title: 'Relative Humidity (%)', pts: rh, fit: rhFit, xr: [59.84, 102.0], xt: rhTicks },
  { r: 0, c: 1, title: 'Air pressure (hPa)', pts: ap, xr: [1001.6, 1042.93], xt: apTicks },
  { r: 0, c: 2, title: 'Wave period (s)', pts: wp, xr: [2.424, 14.026], xt: wpTicks, dec: 1 },
  { r: 1, c: 0, title: 'Wave height (m)', pts: wh, fit: whFit, xr: [0.097, 4.51], xt: whTicks },
  { r: 1, c: 1, title: 'SST (°C)', pts: sst, fit: sstFit, xr: [7.699, 13.505], xt: sstTicks },
  { r: 1, c: 2, title: 'Salinity (psu)', pts: sal, fit: salFit, xr: [33.97, 35.101], xt: salTicks, dec: 1 },
  { r: 2, c: 0, title: 'Oxygen saturation (%)', pts: oxy, fit: oxyFit, xr: [87.58, 116.31], xt: oxyTicks },
  { r: 2, c: 1, title: 'Chlorophyll (µg L⁻¹)', nodata: true },
  { r: 2, c: 2, title: 'Estimated wind speed (m s⁻¹)', pts: ws, xr: [1.016, 17.57], xt: wsTicks }
];

const framePlugin = {
  id: 'frame',
  afterDraw(chart) {
    const a = chart.chartArea, ctx = chart.ctx;
    ctx.save();
    ctx.strokeStyle = '#444';
    ctx.lineWidth = 1;
    ctx.strokeRect(Math.round(a.left) + 0.5, Math.round(a.top) + 0.5,
                   Math.round(a.right - a.left) - 1, Math.round(a.bottom - a.top) - 1);
    ctx.restore();
  }
};

const page = document.getElementById('page');
const toXY = arr => arr.map(p => ({ x: p[0], y: p[1] }));
const TICK_FONT = { family: 'Liberation Sans, Arial, sans-serif', size: 18.5 };
const TICK_COLOR = '#555560';

panels.forEach(p => {
  const [x0, x1] = COLS[p.c];
  const [s0, s1, yb] = ROWS[p.r];

  const strip = document.createElement('div');
  strip.className = 'strip';
  Object.assign(strip.style, { left: x0 + 'px', top: s0 + 'px', width: (x1 - x0) + 'px', height: (s1 - s0 + 1) + 'px' });
  strip.textContent = p.title;

  if (p.nodata) {
    const fr = document.createElement('div');
    fr.className = 'frame';
    Object.assign(fr.style, { left: x0 + 'px', top: s1 + 'px', width: (x1 - x0) + 'px', height: (yb - s1) + 'px' });
    page.appendChild(fr);
    const t = document.createElement('div');
    t.className = 'nodata';
    t.style.left = '642px';
    t.style.top = '746px';
    t.textContent = 'NO DATA';
    page.appendChild(t);
    page.appendChild(strip);
    return;
  }

  const showY = p.c === 0;
  const L = showY ? 60 : 30, R = 30, T = 20, B = 45;
  const wrap = document.createElement('div');
  wrap.className = 'cw';
  Object.assign(wrap.style, {
    left: (x0 - L) + 'px', top: (s1 - T) + 'px',
    width: (x1 - x0 + L + R) + 'px', height: (yb - s1 + T + B) + 'px'
  });
  const cv = document.createElement('canvas');
  wrap.appendChild(cv);
  page.appendChild(wrap);
  page.appendChild(strip);

  const datasets = [{
    type: 'scatter',
    data: toXY(p.pts),
    pointStyle: 'circle',
    pointRadius: 3.3,
    pointBorderWidth: 1,
    borderColor: '#000',
    backgroundColor: 'rgba(0,0,0,0)'
  }];
  if (p.fit) {
    datasets.push({
      type: 'line',
      data: toXY(p.fit),
      borderColor: '#000',
      borderWidth: 1,
      pointRadius: 0,
      fill: false,
      tension: 0
    });
  }

  new Chart(cv, {
    type: 'scatter',
    data: { datasets },
    plugins: [framePlugin],
    options: {
      responsive: true,
      maintainAspectRatio: false,
      animation: false,
      events: [],
      layout: { padding: { left: showY ? 0 : L, right: R, top: T, bottom: 0 } },
      plugins: { legend: { display: false }, tooltip: { enabled: false } },
      scales: {
        x: {
          type: 'linear',
          min: p.xr[0], max: p.xr[1],
          afterBuildTicks: s => { s.ticks = p.xt.map(v => ({ value: v })); },
          afterFit: s => { s.height = B; },
          grid: { drawOnChartArea: false, drawTicks: true, tickLength: 6, tickColor: '#444', tickWidth: 1 },
          border: { display: true, color: '#444', width: 1 },
          ticks: {
            autoSkip: false, maxRotation: 0, minRotation: 0, padding: 5,
            color: TICK_COLOR, font: TICK_FONT,
            callback: v => p.dec ? Number(v).toFixed(p.dec) : v
          }
        },
        y: {
          type: 'linear',
          display: showY,
          min: Y_RANGE[0], max: Y_RANGE[1],
          afterBuildTicks: s => { s.ticks = yTicks.map(v => ({ value: v })); },
          afterFit: s => { s.width = L; },
          grid: { drawOnChartArea: false, drawTicks: true, tickLength: 6, tickColor: '#444', tickWidth: 1 },
          border: { display: true, color: '#444', width: 1 },
          ticks: { padding: 9, color: TICK_COLOR, font: TICK_FONT }
        }
      }
    }
  });
});
</script>
</body>
</html>
